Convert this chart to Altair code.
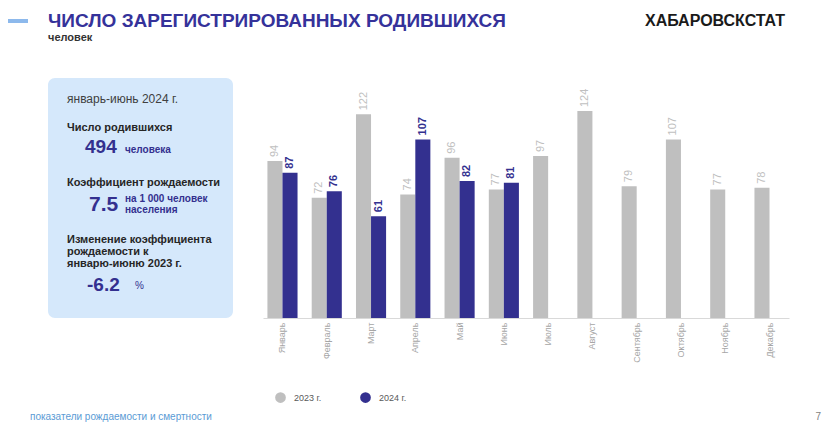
import altair as alt
import pandas as pd

months = ["Январь", "Февраль", "Март", "Апрель", "Май", "Июнь",
          "Июль", "Август", "Сентябрь", "Октябрь", "Ноябрь", "Декабрь"]
values_2023 = [94, 72, 122, 74, 96, 77, 97, 124, 79, 107, 77, 78]
values_2024 = [87, 76, 61, 107, 82, 81]
years = ["2023 г.", "2024 г."]
colors = ["#BFBFBF", "#33308F"]

rows = []
for m, v in zip(months, values_2023):
    rows.append({"month": m, "year": years[0], "value": v})
for m, v in zip(months, values_2024):
    rows.append({"month": m, "year": years[1], "value": v})
df = pd.DataFrame(rows)

BLUE = "#33308F"
DARK = "#262626"
FONT = "Liberation Sans"

x = alt.X("month:N", sort=months,
          scale=alt.Scale(paddingInner=0.32, paddingOuter=0.1),
          axis=alt.Axis(title=None, labelAngle=270, labelFontSize=9,
                        labelColor="#A6A6A6", domainColor="#D9D9D9",
                        ticks=False, labelPadding=4, labelFont=FONT))
xo = alt.XOffset("year:N", sort=years,
                 scale=alt.Scale(domain=years, paddingInner=0, paddingOuter=0))
y = alt.Y("value:Q", scale=alt.Scale(domain=[0, 130], nice=False), axis=None)

bars = alt.Chart(df).mark_bar().encode(
    x=x, xOffset=xo, y=y,
    color=alt.Color("year:N", sort=years,
                    scale=alt.Scale(domain=years, range=colors),
                    legend=alt.Legend(title=None, orient="none", legendX=12, legendY=291,
                                      direction="horizontal", symbolType="circle",
                                      symbolSize=115, symbolStrokeWidth=0,
                                      labelFontSize=9, labelColor="#595959",
                                      labelOffset=8, columnPadding=38, labelFont=FONT)),
)

lab23 = alt.Chart(df).transform_filter(alt.datum.year == years[0]).mark_text(
    angle=270, align="left", baseline="middle", dx=4, fontSize=11,
    color="#BFBFBF", font=FONT).encode(x=x, xOffset=xo, y=y, text="value:Q")
lab24 = alt.Chart(df).transform_filter(alt.datum.year == years[1]).mark_text(
    angle=270, align="left", baseline="middle", dx=4, fontSize=11, fontWeight="bold",
    color=BLUE, font=FONT).encode(x=x, xOffset=xo, y=y, text="value:Q")

one = pd.DataFrame({"a": [0]})


def txt(t, px, py, size, color=DARK, weight="bold", align="left", baseline="middle", font=FONT):
    return alt.Chart(one).mark_text(
        text=t, fontSize=size, color=color, fontWeight=weight, align=align,
        baseline=baseline, font=font).encode(x=alt.value(px), y=alt.value(py))


panel = alt.Chart(one).mark_rect(color="#D5E8FB", cornerRadius=7).encode(
    x=alt.value(-215), x2=alt.value(-30), y=alt.value(-23), y2=alt.value(217))

topline = alt.Chart(one).mark_rule(color="#8DB9EC", strokeWidth=4).encode(
    x=alt.value(-255), x2=alt.value(-235), y=alt.value(-80))

texts = [
    txt("ЧИСЛО ЗАРЕГИСТРИРОВАННЫХ РОДИВШИХСЯ", -215, -80, 19, color="#35329A"),
    txt("человек", -215, -63, 11, color="#333333"),
    txt("ХАБАРОВСКСТАТ", 382, -80, 16, color="#1A1A1A"),
    txt("январь-июнь  2024 г.", -196, -2, 12, color="#404040", weight="normal"),
    txt("Число родившихся", -196, 27, 11),
    txt("494", -178, 46, 19, color=BLUE),
    txt("человека", -138, 49, 10, color=BLUE),
    txt("Коэффициент рождаемости", -196, 82, 11),
    txt("7.5", -174, 104, 21, color=BLUE),
    txt("на 1 000 человек", -138, 98, 10, color=BLUE),
    txt("населения", -138, 109, 10, color=BLUE),
    txt("Изменение коэффициента", -196, 139, 11),
    txt("рождаемости к", -196, 151, 11),
    txt("январю-июню 2023 г.", -196, 163, 11),
    txt("-6.2", -176, 184, 19, color=BLUE),
    txt("%", -128, 185, 10, color=BLUE, weight="normal"),
    txt("показатели рождаемости и смертности", -233, 321, 10, color="#5B9BD5",
        weight="normal", baseline="bottom"),
    txt("7", 558, 321, 10, color="#7F7F7F", weight="normal", align="right",
        baseline="bottom"),
]

chart = alt.layer(panel, topline, bars, lab23, lab24, *texts).properties(
    width=526, height=217,
    autosize=alt.AutoSizeParams(type="none"),
    padding={"left": 255, "top": 93, "right": 35, "bottom": 106},
    background="white",
).configure_view(stroke=None)

chart.save("out.html", embed_options={"renderer": "svg", "actions": False})
